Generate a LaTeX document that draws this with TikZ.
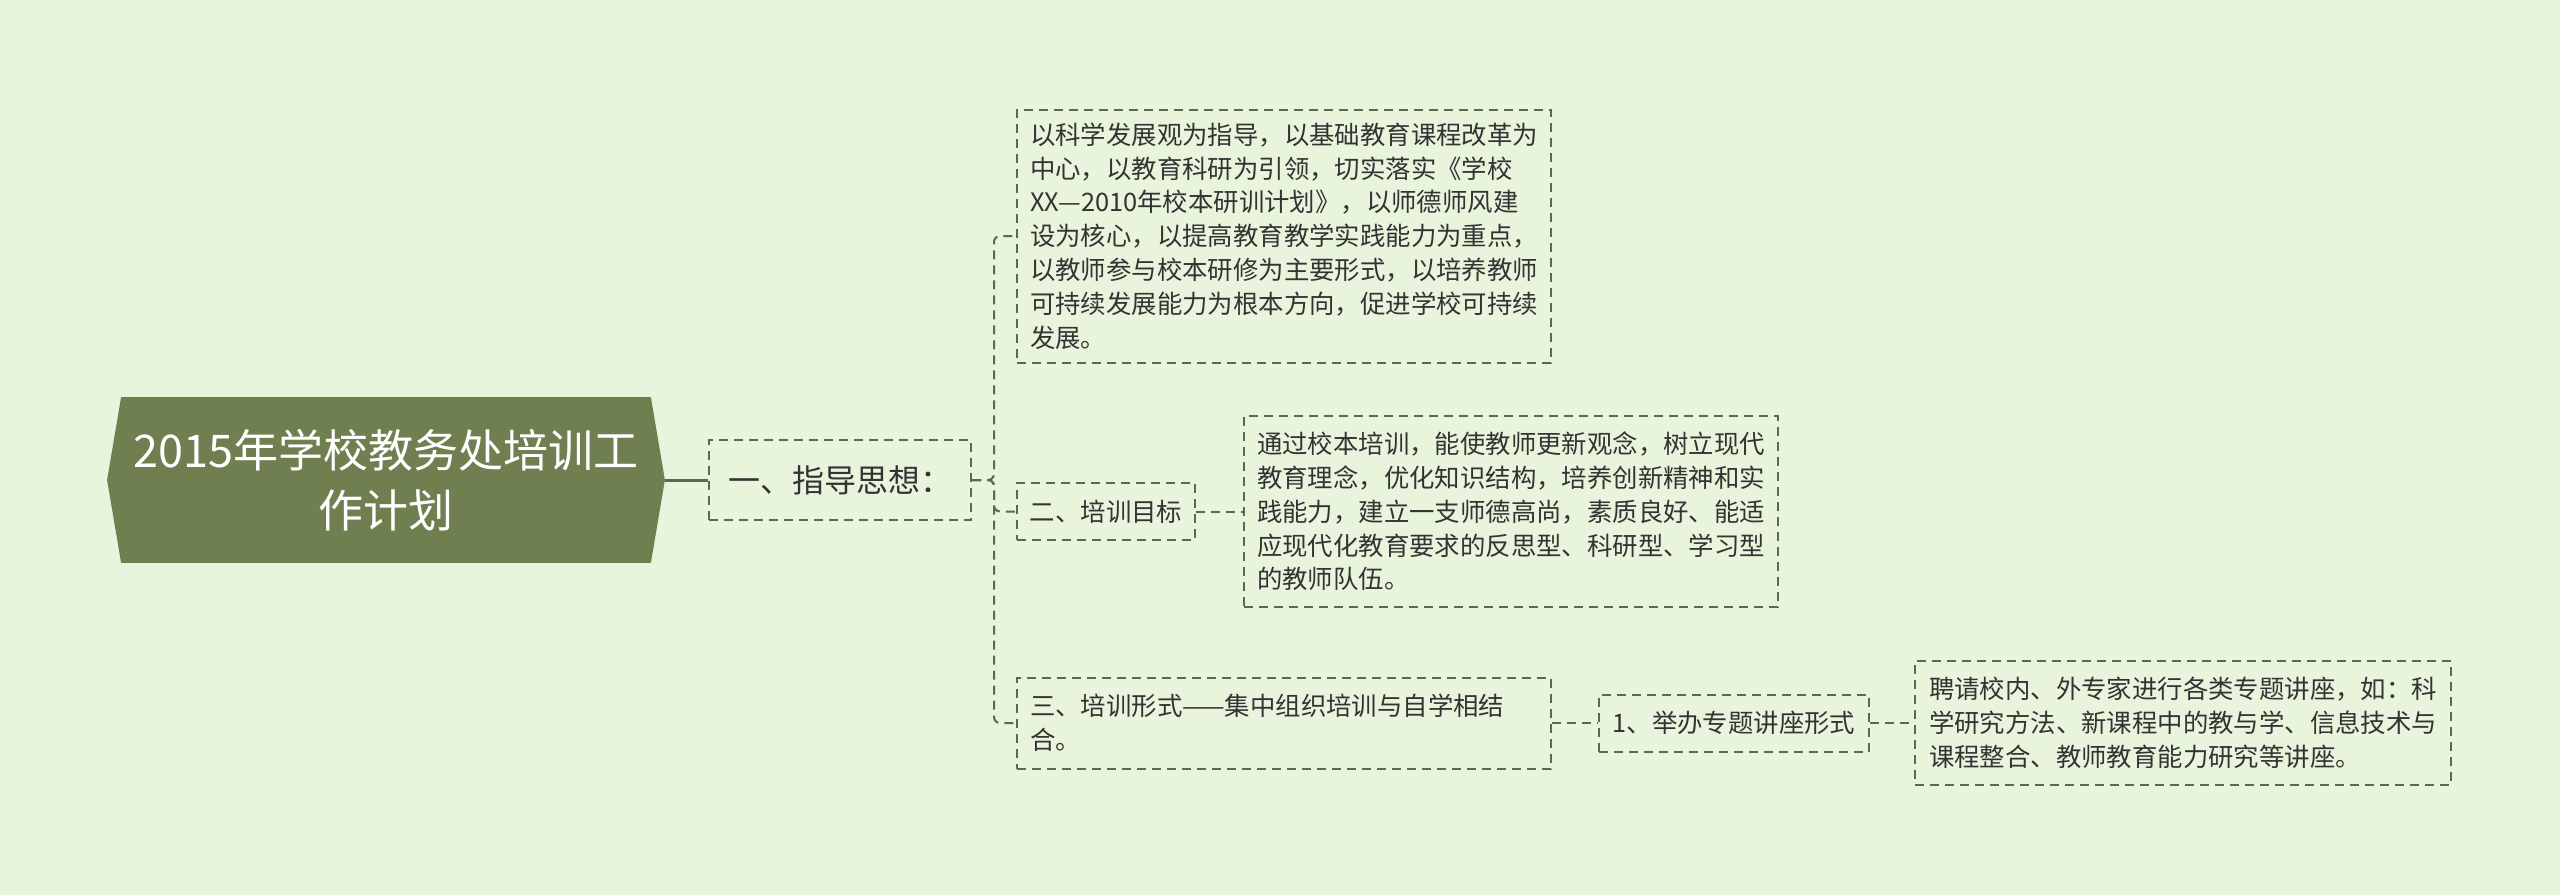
\documentclass[tikz,border=0pt]{standalone}
\usepackage{fontspec}
\newfontfamily\cjk{Noto Sans CJK SC}
\definecolor{bgcol}{HTML}{E8F5DC}
\definecolor{rootcol}{HTML}{6F7F50}
\definecolor{linecol}{HTML}{5C6950}
\definecolor{txtcol}{HTML}{333333}
\pgfdeclarelayer{bg}
\pgfsetlayers{bg,main}
\begin{document}
\begin{tikzpicture}[x=0.5pt, y=-0.5pt,
    every node/.style={font=\cjk, text=txtcol},
    topic/.style={draw=linecol, line width=1pt, dash pattern=on 4.5pt off 3pt, align=left, inner sep=0pt,
      font=\cjk\fontsize{12.7}{16.9}\selectfont},
    link/.style={draw=linecol, line width=1pt, dash pattern=on 4.5pt off 3pt, rounded corners=3pt}]
  \begin{pgfonlayer}{bg}
    \fill[bgcol] (0,0) rectangle (2560,895);
  \end{pgfonlayer}
  \useasboundingbox (0,0) rectangle (2560,895);
  % root topic, filled hexagon drawn behind it
  \node[minimum width=278.5pt, minimum height=82.5pt, align=center, text=white,
    font=\cjk\fontsize{22.5}{30}\selectfont] (root) at (386,480) {2015年学校教务处培训工\\作计划};
  \begin{pgfonlayer}{bg}
    \fill[rootcol] (root.west) -- ([xshift=7pt]root.north west) -- ([xshift=-7pt]root.north east)
      -- (root.east) -- ([xshift=-7pt]root.south east) -- ([xshift=7pt]root.south west) -- cycle;
  \end{pgfonlayer}
  \node[topic, minimum width=131pt, minimum height=40pt, align=center,
    font=\cjk\fontsize{16}{20}\selectfont] (guide) at (840,480) {一、指导思想：};
  % branches
  \node[topic, minimum width=267pt, minimum height=126.5pt] (idea) at (1284,236)
    {以科学发展观为指导，以基础教育课程改革为\\中心，以教育科研为引领，切实落实《学校\\XX—2010年校本研训计划》，以师德师风建\\设为核心，以提高教育教学实践能力为重点，\\以教师参与校本研修为主要形式，以培养教师\\可持续发展能力为根本方向，促进学校可持续\\发展。};
  \node[topic, minimum width=89pt, minimum height=28.5pt] (goal) at (1106,511.5) {二、培训目标};
  \node[topic, minimum width=267pt, minimum height=95.5pt] (goaltext) at (1511,511.5)
    {通过校本培训，能使教师更新观念，树立现代\\教育理念，优化知识结构，培养创新精神和实\\践能力，建立一支师德高尚，素质良好、能适\\应现代化教育要求的反思型、科研型、学习型\\的教师队伍。};
  \node[topic, minimum width=267pt, minimum height=45.5pt, text width=254pt] (form) at (1284,723)
    {三、培训形式——集中组织培训与自学相结\\合。};
  \node[topic, minimum width=135pt, minimum height=28.5pt] (lecture) at (1734,723) {1、举办专题讲座形式};
  \node[topic, minimum width=268pt, minimum height=62pt] (lecturetext) at (2183,723)
    {聘请校内、外专家进行各类专题讲座，如：科\\学研究方法、新课程中的教与学、信息技术与\\课程整合、教师教育能力研究等讲座。};
  % connectors
  \coordinate (trunk) at (994,480);
  \draw[line width=1.5pt, linecol] (root.east) -- (guide.west);
  \foreach \n in {idea, goal, form}
    \draw[link] (guide.east) -- (trunk) |- (\n.west);
  \draw[link] (goal.east) -- (goaltext.west);
  \draw[link] (form.east) -- (lecture.west);
  \draw[link] (lecture.east) -- (lecturetext.west);
\end{tikzpicture}
\end{document}
